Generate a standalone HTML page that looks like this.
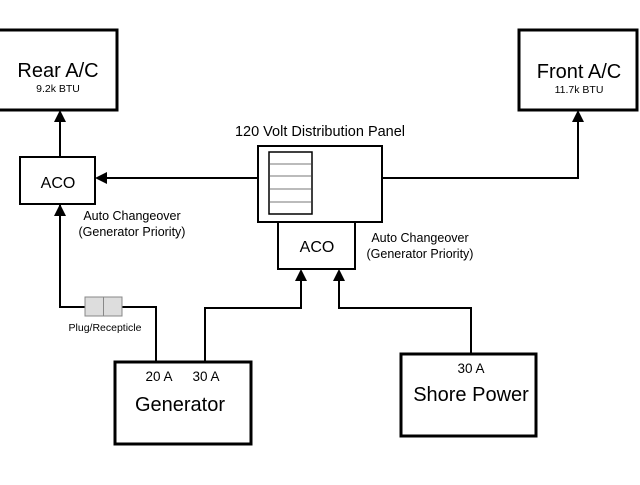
<!DOCTYPE html>
<html><head><style>body{margin:0;background:#fff}</style></head><body>
<svg width="640" height="480" xmlns="http://www.w3.org/2000/svg" font-family="Liberation Sans, Arial, sans-serif">
<rect width="640" height="480" fill="#fff"/>
<g fill="none" stroke="#000">
<rect x="-2" y="30" width="119" height="80" stroke-width="3"/>
<rect x="519" y="30" width="118" height="80" stroke-width="3"/>
<rect x="20" y="157" width="75" height="47" stroke-width="2"/>
<rect x="258" y="146" width="124" height="76" stroke-width="2"/>
<rect x="269" y="152" width="43" height="62" stroke-width="1.5"/>
<rect x="278" y="222" width="77" height="47" stroke-width="2"/>
<rect x="115" y="362" width="136" height="82" stroke-width="3"/>
<rect x="401" y="354" width="135" height="82" stroke-width="3"/>
<g stroke-width="2">
<path d="M60 157V118"/>
<path d="M258 178H103"/>
<path d="M382 178H578V118"/>
<path d="M60 204V307H85M122 307H156V362"/>
<path d="M205 362V308H301V277"/>
<path d="M471 354V308H339V277"/>
</g>
</g>
<g stroke="#777" stroke-width="1">
<path d="M270 164H311M270 176H311M270 189H311M270 202H311"/>
</g>
<rect x="85" y="297" width="37" height="19" fill="#ddd" stroke="#888"/>
<line x1="103.5" y1="297" x2="103.5" y2="316" stroke="#888"/>
<g fill="#000">
<path d="M60 110l-6 12h12z"/>
<path d="M578 110l-6 12h12z"/>
<path d="M95 178l12-6v12z"/>
<path d="M60 204l-6 12h12z"/>
<path d="M301 269l-6 12h12z"/>
<path d="M339 269l-6 12h12z"/>
</g>
<g text-anchor="middle" fill="#000">
<text x="58" y="77" font-size="20">Rear A/C</text>
<text x="58" y="92" font-size="10.5">9.2k BTU</text>
<text x="579" y="78" font-size="20">Front A/C</text>
<text x="579" y="93" font-size="10.5">11.7k BTU</text>
<text x="320" y="136" font-size="14.5">120 Volt Distribution Panel</text>
<text x="58" y="188" font-size="16">ACO</text>
<text x="317" y="252" font-size="16">ACO</text>
<text x="132" y="220" font-size="12.5">Auto Changeover</text>
<text x="132" y="236" font-size="12.5">(Generator Priority)</text>
<text x="420" y="242" font-size="12.5">Auto Changeover</text>
<text x="420" y="258" font-size="12.5">(Generator Priority)</text>
<text x="105" y="331" font-size="10.5">Plug/Recepticle</text>
<text x="159" y="381" font-size="13.5">20 A</text>
<text x="206" y="381" font-size="13.5">30 A</text>
<text x="180" y="411" font-size="20">Generator</text>
<text x="471" y="373" font-size="13.5">30 A</text>
<text x="471" y="401" font-size="20">Shore Power</text>
</g>
</svg>
</body></html>
